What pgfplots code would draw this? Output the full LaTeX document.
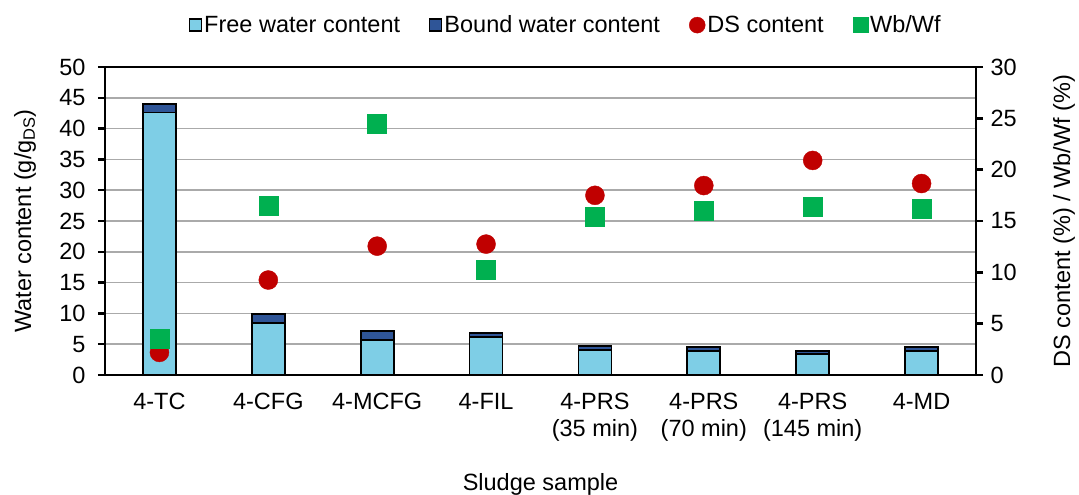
\documentclass[border=0pt]{standalone}
\usepackage{pgfplots}
\pgfplotsset{compat=1.18}
\usepackage{fontspec}
\setmainfont{Liberation Sans}
\definecolor{freec}{RGB}{126,206,230}
\definecolor{boundc}{RGB}{47,85,151}
\definecolor{dsred}{RGB}{192,0,0}
\definecolor{wbgreen}{RGB}{0,176,80}
\definecolor{gridc}{RGB}{170,170,170}
\newcommand{\fs}{\fontsize{23.5}{27}\selectfont}
\begin{document}
\begin{tikzpicture}[x=1pt,y=1pt]
\useasboundingbox (0,0) rectangle (1079,495);
\pgfplotsset{
  base/.style={
    at={(105pt,120pt)}, anchor=south west, scale only axis, width=871pt, height=308pt,
    xmin=-0.5, xmax=7.5,
    /pgf/number format/assume math mode=true,
    tick label style={font=\fs, black},
    axis line style={line width=2.5pt, black},
    tick style={line width=2.5pt, black},
    tick align=outside, major tick length=7pt,
  }
}
\begin{axis}[base,
  ymin=0, ymax=50, ytick={0,5,...,50}, ytick pos=left,
  yticklabel style={xshift=-9pt},
  xtick={0,...,7},
  xticklabels={4-TC,4-CFG,4-MCFG,4-FIL,{4-PRS\\(35 min)},{4-PRS\\(70 min)},{4-PRS\\(145 min)},4-MD},
  xticklabel style={align=center, yshift=-8pt},
  x tick style={draw=none},
  ymajorgrids, grid style={gridc, line width=1.7pt},
  ybar stacked, bar width=33pt,
  xlabel={Sludge sample},
  every axis x label/.style={at={(axis description cs:0.5,-0.3766)}, anchor=base, font=\fs, black},
  ylabel={Water content (g/g\textsubscript{DS})},
  every axis y label/.style={at={(axis description cs:-0.0918,0.5)}, anchor=center, rotate=90, font=\fs, black},
]
\addplot[fill=freec, draw=black, line width=1.8pt] coordinates {(0,42.6) (1,8.5) (2,5.7) (3,6.2) (4,4.05) (5,3.95) (6,3.4) (7,3.95)};
\addplot[fill=boundc, draw=black, line width=1.8pt] coordinates {(0,1.45) (1,1.4) (2,1.4) (3,0.65) (4,0.65) (5,0.63) (6,0.56) (7,0.64)};
\end{axis}
\begin{axis}[base,
  ymin=0, ymax=30, ytick={0,5,...,30},
  axis x line=none, axis y line*=right,
  yticklabel style={xshift=4pt},
  clip=false,
  ylabel={DS content (\%) / Wb/Wf (\%)},
  every axis y label/.style={at={(axis description cs:1.101,0.5)}, anchor=center, rotate=90, font=\fs, black},
  legend columns=4,
  legend style={draw=none, fill=none, at={(0.529,1.136)}, anchor=center,
    font=\fs, nodes={inner sep=2pt},
    /tikz/every even column/.append style={column sep=27pt}},
]
\addlegendimage{legend image code/.code={\draw[fill=freec, draw=black, line width=1.3pt] (0pt,-6pt) rectangle (12pt,6pt);}}
\addlegendentry{Free water content}
\addlegendimage{legend image code/.code={\draw[fill=boundc, draw=black, line width=1.3pt] (0pt,-6pt) rectangle (12pt,6pt);}}
\addlegendentry{Bound water content}
\addlegendimage{legend image code/.code={\fill[dsred] (8pt,0pt) circle (8pt);}}
\addlegendentry{DS content}
\addlegendimage{legend image code/.code={\fill[wbgreen] (0pt,-7.5pt) rectangle (15pt,7.5pt);}}
\addlegendentry{Wb/Wf}
\addplot[only marks, mark=*, mark size=9.5pt, color=dsred, forget plot] coordinates {(0,2.2) (1,9.25) (2,12.55) (3,12.75) (4,17.5) (5,18.45) (6,20.9) (7,18.65)};
\addplot[only marks, mark=square*, mark size=9.5pt, color=wbgreen, forget plot] coordinates {(0,3.55) (1,16.45) (2,24.5) (3,10.3) (4,15.4) (5,16.0) (6,16.35) (7,16.2)};
\end{axis}
\end{tikzpicture}
\end{document}
